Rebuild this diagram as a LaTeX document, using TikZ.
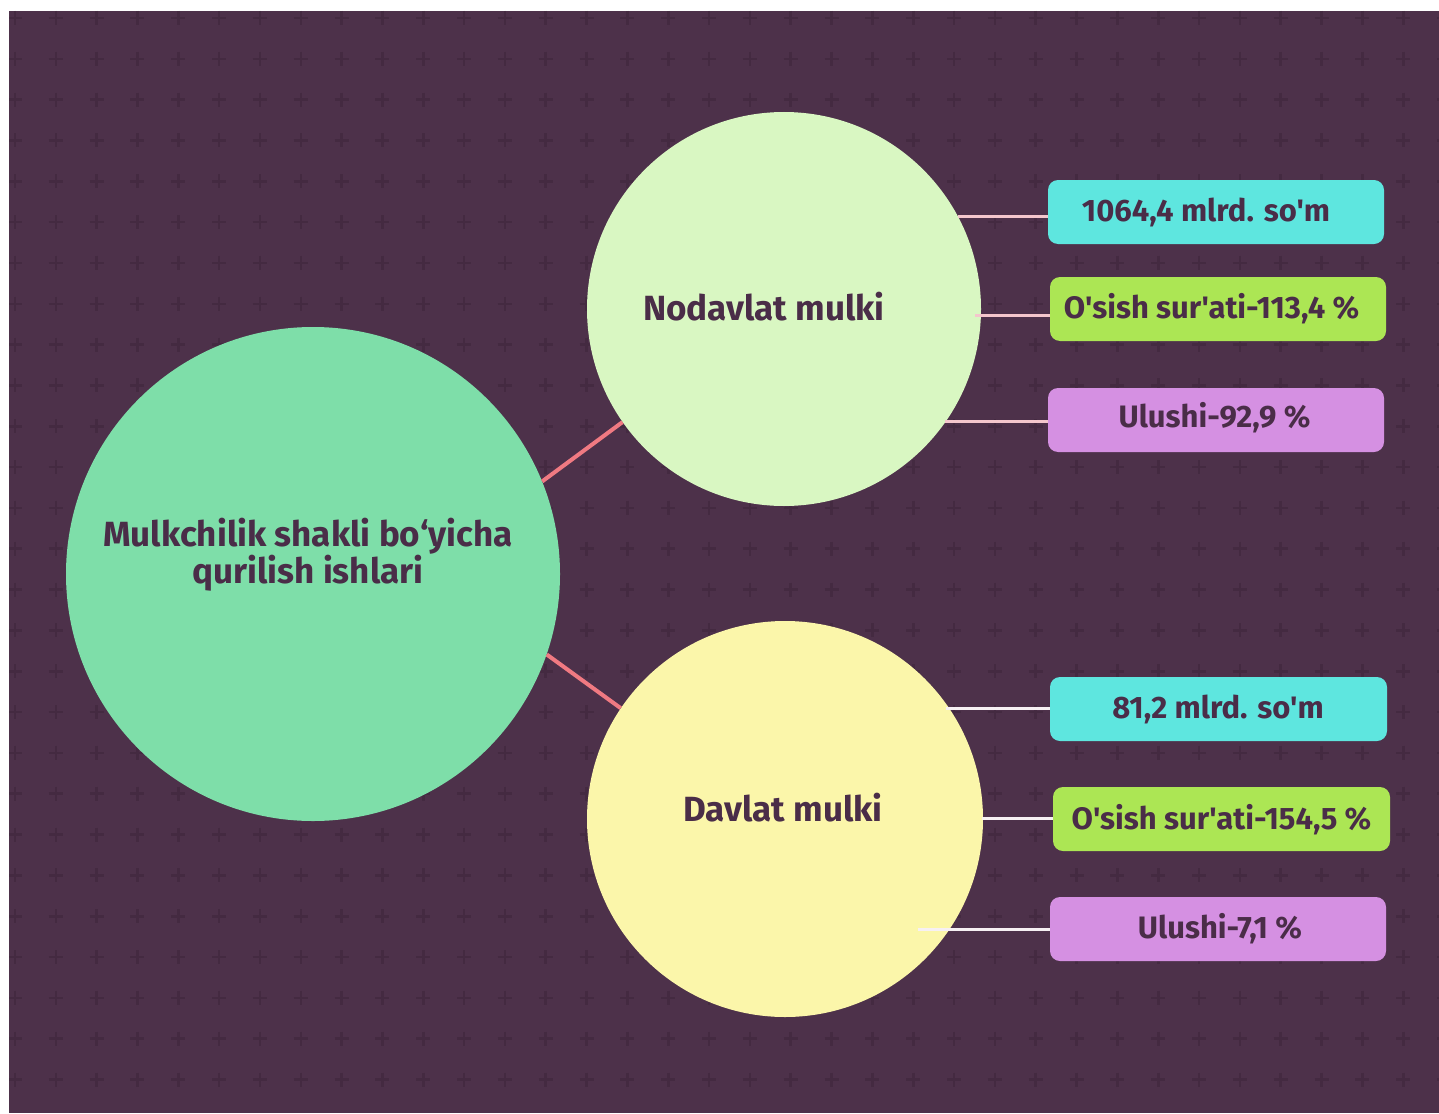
\documentclass[tikz,border=0pt]{standalone}
\usepackage{fontspec}
\newfontfamily\lab{Fira Sans}
\definecolor{bgc}{RGB}{77,49,74}
\definecolor{crossc}{RGB}{68,42,65}
\definecolor{maingreen}{RGB}{126,222,169}
\definecolor{nodc}{RGB}{217,247,194}
\definecolor{davc}{RGB}{251,246,170}
\definecolor{cyanc}{RGB}{94,230,223}
\definecolor{limec}{RGB}{172,230,84}
\definecolor{violc}{RGB}{213,144,226}
\definecolor{txtc}{RGB}{74,45,72}
\definecolor{salmon}{RGB}{240,122,130}
\definecolor{pinkl}{RGB}{244,198,204}
\definecolor{whitel}{RGB}{246,240,243}
\begin{document}
\begin{tikzpicture}[x=1pt,y=-1pt,
  circ/.style={circle,inner sep=0pt,draw=none},
  box/.style={rectangle,rounded corners=10pt,inner sep=0pt,minimum width=336pt,minimum height=64pt,draw=none},
  txt/.style={text=txtc,font=\lab\bfseries\fontsize{31}{33}\selectfont,inner sep=0pt},
  bigtxt/.style={text=txtc,font=\lab\bfseries\fontsize{35}{32}\selectfont,inner sep=0pt},
  mainlink/.style={draw=salmon,line width=4pt},
  toplink/.style={draw=pinkl,line width=3pt},
  botlink/.style={draw=whitel,line width=3pt}]
\useasboundingbox (0,0) rectangle (1439,1113);
\fill[white] (0,0) rectangle (1439,1113);
\fill[bgc] (9,11) rectangle (1439,1113);
\begin{scope}
\clip (9,11) rectangle (1439,1113);
\foreach \i in {0,...,35}{
  \foreach \j in {0,...,26}{
    \draw[crossc,line width=2.6pt] ({15+40.83*\i-7},{18+40.83*\j}) -- ({15+40.83*\i+7},{18+40.83*\j});
    \draw[crossc,line width=2.6pt] ({15+40.83*\i},{18+40.83*\j-7}) -- ({15+40.83*\i},{18+40.83*\j+7});
  }
}
\end{scope}
% circles
\node[circ,fill=maingreen,minimum size=494pt] (main) at (313,574) {};
\node[circ,fill=nodc,minimum size=394pt] (nod) at (784,309) {};
\node[circ,fill=davc,minimum size=396pt] (dav) at (785,819) {};
% main links
\draw[mainlink] (main.22.7) -- (nod.215);
\draw[mainlink] (main.-19.8) -- (dav.146.6);
% boxes
\node[box,fill=cyanc] (b1) at (1216,212) {};
\node[box,fill=limec] (b2) at (1218,309) {};
\node[box,fill=violc] (b3) at (1216,420) {};
\node[box,fill=cyanc,minimum width=337pt] (b4) at (1218.5,709) {};
\node[box,fill=limec,minimum width=337pt] (b5) at (1221.5,819) {};
\node[box,fill=violc] (b6) at (1218,929) {};
% box links
\coordinate (s1) at (958,216);
\coordinate (s2) at (975,315);
\coordinate (s3) at (945,421);
\coordinate (s4) at (946,708);
\coordinate (s5) at (982,818);
\coordinate (s6) at (918,929);
\draw[toplink] (s1) -- (s1 -| b1.west);
\draw[toplink] (s2) -- (s2 -| b2.west);
\draw[toplink] (s3) -- (s3 -| b3.west);
\draw[botlink] (s4) -- (s4 -| b4.west);
\draw[botlink] (s5) -- (s5 -| b5.west);
\draw[botlink] (s6) -- (s6 -| b6.west);
% texts
\node[bigtxt,align=center] (tmain) at (308,555) {Mulkchilik shakli bo‘yicha\\qurilish ishlari};
\node[bigtxt] (tnod) at (764,307) {Nodavlat mulki};
\node[bigtxt] (tdav) at (783,808) {Davlat mulki};
\node[txt] (t1) at (1206,212) {1064,4 mlrd. so'm};
\node[txt] (t2) at (1211.5,309) {O'sish sur'ati-113,4 \%};
\node[txt] (t3) at (1214.5,418) {Ulushi-92,9 \%};
\node[txt] (t4) at (1218,709) {81,2 mlrd. so'm};
\node[txt] (t5) at (1221.5,820) {O'sish sur'ati-154,5 \%};
\node[txt] (t6) at (1220,929) {Ulushi-7,1 \%};
\end{tikzpicture}
\end{document}
